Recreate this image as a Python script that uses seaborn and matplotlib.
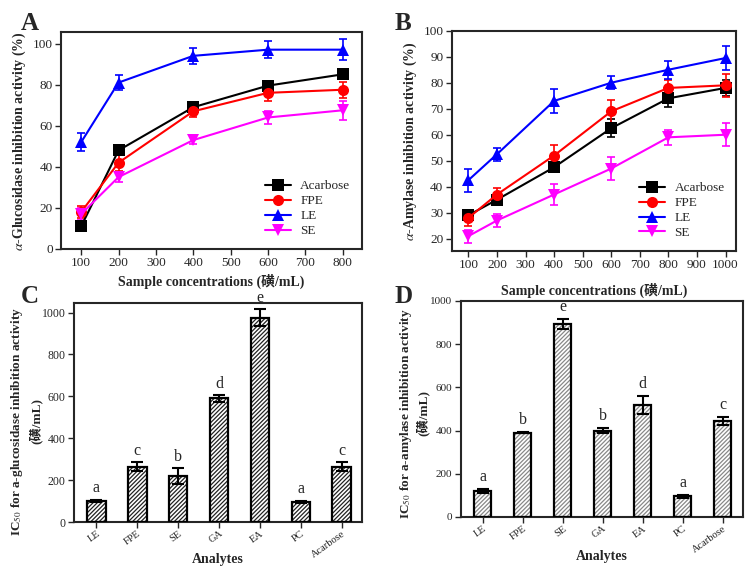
import numpy as np
import pandas as pd
import matplotlib
matplotlib.use("Agg")
import matplotlib.pyplot as plt
from matplotlib.patches import Rectangle
import seaborn as sns

# ---- data ----
samples = ["Acarbose", "FPE", "LE", "SE"]
colors = {"Acarbose": "black", "FPE": "#ff0000", "LE": "#0000ff", "SE": "#ff00ff"}
markers = {"Acarbose": "s", "FPE": "o", "LE": "^", "SE": "v"}

# panel A: alpha-glucosidase inhibition (%)
conc_a = [100, 200, 400, 600, 800]
glu_acarbose = [11, 48, 69, 79.5, 85]
glu_fpe = [18, 42, 67, 76, 77.5]
glu_le = [52, 81, 94, 97, 97]
glu_se = [17, 35, 53, 64, 67.5]
glu_acarbose_err = [1.5, 2.5, 2, 1.5, 1.5]
glu_fpe_err = [3, 4, 3, 4, 4]
glu_le_err = [4.5, 3.5, 4, 4, 5]
glu_se_err = [3, 2.5, 2, 3, 4.5]

# panel B: alpha-amylase inhibition (%)
conc_b = [100, 200, 400, 600, 800, 1000]
amy_acarbose = [29, 35, 47.5, 62.5, 74, 78]
amy_fpe = [28, 37, 52, 69, 78, 79]
amy_le = [42.5, 52.5, 73, 80, 85, 89.5]
amy_se = [21, 27, 37, 47, 59, 60]
amy_acarbose_err = [2, 2, 2, 3.5, 3.5, 3]
amy_fpe_err = [3, 2.5, 4, 4.5, 3, 4.5]
amy_le_err = [4.5, 2.5, 4.5, 2.5, 3.5, 4.5]
amy_se_err = [2.5, 2.5, 4, 4.5, 3, 4.5]

# panels C, D: IC50
analytes = ["LE", "FPE", "SE", "GA", "EA", "PC", "Acarbose"]
ic50_glu = [100, 265, 218, 590, 975, 97, 265]
ic50_glu_err = [6, 20, 38, 15, 40, 5, 20]
ic50_glu_letters = ["a", "c", "b", "d", "e", "a", "c"]
ic50_amy = [120, 390, 893, 400, 518, 95, 445]
ic50_amy_err = [8, 3, 25, 12, 40, 5, 18]
ic50_amy_letters = ["a", "b", "e", "b", "d", "a", "c"]

unit = "\u78fa/mL"

sns.set_style("ticks")
plt.rcParams["font.family"] = ["Liberation Serif", "Noto Sans CJK SC"]
plt.rcParams["mathtext.fontset"] = "stix"
plt.rcParams["axes.linewidth"] = 1.5
plt.rcParams["hatch.linewidth"] = 0.9

fig = plt.figure(figsize=(7.53, 5.69), dpi=100)
axA = fig.add_axes([0.081, 0.5624, 0.400, 0.381])
axB = fig.add_axes([0.600, 0.559, 0.378, 0.387])
axC = fig.add_axes([0.0983, 0.0826, 0.3825, 0.385])
axD = fig.add_axes([0.612, 0.0914, 0.3745, 0.380])


def line_panel(ax, conc, vals, errs):
    rows = []
    for s in samples:
        for c, v in zip(conc, vals[s]):
            rows.append({"conc": c, "val": v, "sample": s})
    df = pd.DataFrame(rows)
    for s in samples:
        ax.errorbar(conc, vals[s], yerr=errs[s], fmt="none", ecolor=colors[s],
                    elinewidth=1.2, capsize=3, capthick=1.2, zorder=2)
    sns.lineplot(data=df, x="conc", y="val", hue="sample", style="sample",
                 palette=colors, markers=markers, dashes=False, ax=ax,
                 linewidth=1.5, markersize=8, markeredgewidth=0, zorder=3)
    sns.move_legend(ax, "lower right", title=None, frameon=False,
                    fontsize=9.5, handlelength=2.0, labelspacing=0.2,
                    handletextpad=0.7, borderaxespad=0.5)


line_panel(axA, conc_a,
           {"Acarbose": glu_acarbose, "FPE": glu_fpe, "LE": glu_le, "SE": glu_se},
           {"Acarbose": glu_acarbose_err, "FPE": glu_fpe_err, "LE": glu_le_err, "SE": glu_se_err})
axA.set_xlim(46, 852)
axA.set_ylim(0, 105.5)
axA.set_xticks(range(100, 801, 100))
axA.set_yticks(range(0, 101, 20))
axA.set_xlabel("Sample concentrations (" + unit + ")", fontsize=10, fontweight="bold", labelpad=3)
axA.set_ylabel(r"$\alpha$-Glucosidase inhibition activity (%)", fontsize=10, fontweight="bold", labelpad=3)

line_panel(axB, conc_b,
           {"Acarbose": amy_acarbose, "FPE": amy_fpe, "LE": amy_le, "SE": amy_se},
           {"Acarbose": amy_acarbose_err, "FPE": amy_fpe_err, "LE": amy_le_err, "SE": amy_se_err})
axB.set_xlim(42, 1038)
axB.set_ylim(15.3, 100)
axB.set_xticks(range(100, 1001, 100))
axB.set_yticks(range(20, 101, 10))
axB.set_xlabel("Sample concentrations (" + unit + ")", fontsize=10, fontweight="bold", labelpad=8)
axB.set_ylabel(r"$\alpha$-Amylase inhibition activity (%)", fontsize=10, fontweight="bold", labelpad=3)


def bar_panel(ax, vals, errs, letters, hatch_color, width, label_y):
    sns.barplot(x=analytes, y=vals, color="white", edgecolor=hatch_color,
                linewidth=0, hatch="////////", width=width, ax=ax, zorder=2)
    for p in list(ax.patches):
        ax.add_patch(Rectangle(p.get_xy(), p.get_width(), p.get_height(),
                               fill=False, ec="black", lw=1.6, zorder=3))
    x = np.arange(len(analytes))
    ax.errorbar(x, vals, yerr=errs, fmt="none", ecolor="black",
                elinewidth=1.5, capsize=4, capthick=1.5, zorder=4)
    for i, (v, e, t) in enumerate(zip(vals, errs, letters)):
        ax.text(i, v + e + 18, t, ha="center", va="bottom", fontsize=11.5, clip_on=False)
    ax.set_xlim(-0.55, 6.5)
    ax.set_xticks(x)
    ax.set_xticklabels(analytes, rotation=36, ha="right", rotation_mode="anchor")
    ax.set_xlabel("Analytes", fontsize=10, fontweight="bold")
    ax.xaxis.set_label_coords(0.5, label_y)


bar_panel(axC, ic50_glu, ic50_glu_err, ic50_glu_letters, "#222222", 0.45, -0.142)
axC.set_ylim(0, 1046)
axC.set_yticks(range(0, 1001, 200))
axC.set_ylabel("IC$_{50}$ for a-glucosidase inhibition activity\n(" + unit + ")",
               fontsize=9.5, fontweight="bold", linespacing=1.35)
axC.yaxis.set_label_coords(-0.11, 0.46)

bar_panel(axD, ic50_amy, ic50_amy_err, ic50_amy_letters, "#888888", 0.42, -0.153)
axD.set_ylim(0, 1000)
axD.set_yticks(range(0, 1001, 200))
axD.set_ylabel("IC$_{50}$ for a-amylase inhibition activity\n(" + unit + ")",
               fontsize=9.5, fontweight="bold", linespacing=1.15)
axD.yaxis.set_label_coords(-0.11, 0.48)

for ax in (axA, axB, axC, axD):
    for sp in ax.spines.values():
        sp.set_visible(True)
        sp.set_linewidth(1.5)
    ax.tick_params(direction="out", length=4, width=1, labelsize=9.5, pad=2)
axC.tick_params(axis="x", labelsize=7.5, pad=1)
axD.tick_params(axis="x", labelsize=7.5, pad=1)
axC.tick_params(axis="y", labelsize=8.5)
axD.tick_params(axis="y", labelsize=8)

for lab, (x, y) in zip("ABCD", [(0.028, 0.948), (0.524, 0.948), (0.028, 0.468), (0.524, 0.468)]):
    fig.text(x, y, lab, fontsize=18, fontweight="bold")

fig.savefig("out.png", dpi=100)
